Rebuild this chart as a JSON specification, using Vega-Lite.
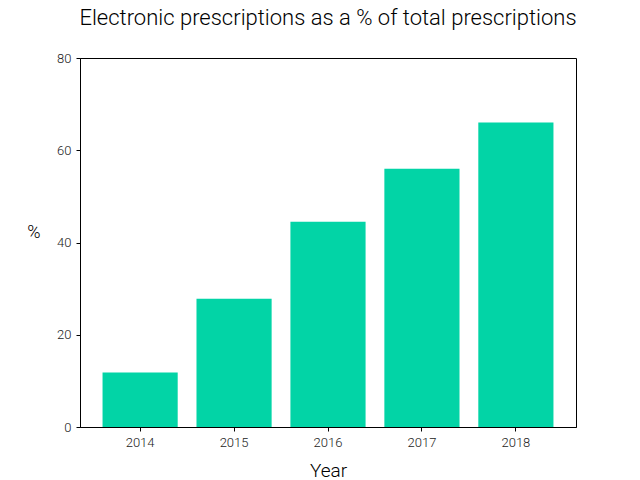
{
  "$schema": "https://vega.github.io/schema/vega-lite/v6.json",
  "width": 496,
  "height": 369,
  "autosize": "none",
  "padding": {"left": 80, "top": 58, "right": 64, "bottom": 53},
  "background": "white",
  "title": {
    "text": "Electronic prescriptions as a % of total prescriptions",
    "font": "Roboto",
    "fontWeight": 300,
    "fontSize": 22,
    "color": "#000000",
    "anchor": "middle",
    "offset": 22
  },
  "data": {
    "values": [
      {"Year": "2014", "Percent": 11.8},
      {"Year": "2015", "Percent": 27.8},
      {"Year": "2016", "Percent": 44.5},
      {"Year": "2017", "Percent": 56.0},
      {"Year": "2018", "Percent": 66.0}
    ]
  },
  "mark": {"type": "bar", "color": "#02D4A6"},
  "encoding": {
    "x": {
      "field": "Year",
      "type": "ordinal",
      "title": "Year",
      "scale": {"paddingInner": 0.2, "paddingOuter": 0.24},
      "axis": {
        "labelAngle": 0,
        "labelFontSize": 13,
        "titleFontSize": 19,
        "titlePadding": 12
      }
    },
    "y": {
      "field": "Percent",
      "type": "quantitative",
      "title": "%",
      "scale": {"domain": [0, 80], "nice": false},
      "axis": {
        "values": [0, 20, 40, 60, 80],
        "grid": false,
        "labelFontSize": 13,
        "titleFontSize": 18,
        "titleAngle": 0,
        "titleAlign": "right",
        "titleBaseline": "middle",
        "titleX": -40,
        "titleY": 174
      }
    }
  },
  "config": {
    "view": {"stroke": "#000000", "strokeWidth": 1},
    "axis": {
      "labelFont": "Roboto",
      "labelFontWeight": 300,
      "labelColor": "#222222",
      "titleFont": "Roboto",
      "titleFontWeight": 300,
      "titleColor": "#000000",
      "domainColor": "#000000",
      "tickColor": "#000000",
      "tickSize": 4,
      "labelPadding": 5,
      "grid": false
    }
  }
}
